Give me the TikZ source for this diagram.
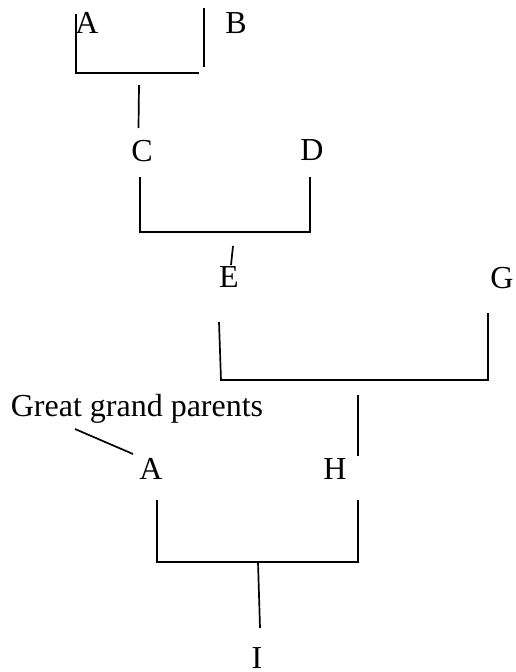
\documentclass[tikz,border=0pt]{standalone}
\usepackage{fontspec}
\setmainfont{Liberation Serif}
\begin{document}
\begin{tikzpicture}[x=1pt,y=-1pt,
  lbl/.style={anchor=base,inner sep=0pt,font=\fontsize{32}{36}\selectfont},
  ln/.style={line width=1.7pt,black}]
\useasboundingbox (0,0) rectangle (515,672);
% labels
\node[lbl] (a1) at (87,33) {A};
\node[lbl] (b) at (236,33) {B};
\node[lbl] (c) at (142,161) {C};
\node[lbl] (d) at (312,160) {D};
\node[lbl] (e) at (229,287) {E};
\node[lbl] (g) at (502,288) {G};
\node[lbl] (ggp) at (137,416) {Great grand parents};
\node[lbl] (a2) at (151,479) {A};
\node[lbl] (h) at (335,479) {H};
\node[lbl] (i) at (257,668) {I};
% coordinates
\coordinate (ab1) at (75.7,14);
\coordinate (ab2) at (75.7,73);
\coordinate (ab3) at (199,73);
\coordinate (ab4) at (204,8);
\coordinate (ab5) at (204,67);
\coordinate (c1) at (139,85);
\coordinate (c2) at (138.5,128);
\coordinate (cd1) at (140,177);
\coordinate (cd2) at (140,232);
\coordinate (cd3) at (310,232);
\coordinate (cd4) at (310,177);
\coordinate (e1) at (233,246);
\coordinate (e2) at (231,265);
\coordinate (eg1) at (219,322);
\coordinate (eg2) at (221,380);
\coordinate (eg3) at (488,380);
\coordinate (eg4) at (488,313);
\coordinate (h1) at (358,395);
\coordinate (h2) at (358,456);
\coordinate (p1) at (75,429);
\coordinate (p2) at (133,454);
\coordinate (ah1) at (157,500);
\coordinate (ah2) at (157,562);
\coordinate (ah3) at (358,562);
\coordinate (ah4) at (358,500);
\coordinate (i1) at (258,562);
\coordinate (i2) at (260,628);
% connectors
\draw[ln] (ab1) -- (ab2) -- (ab3);
\draw[ln] (ab4) -- (ab5);
\draw[ln] (c1) -- (c2);
\draw[ln] (cd1) -- (cd2) -- (cd3) -- (cd4);
\draw[ln] (e1) -- (e2);
\draw[ln] (eg1) -- (eg2) -- (eg3) -- (eg4);
\draw[ln] (h1) -- (h2);
\draw[ln] (p1) -- (p2);
\draw[ln] (ah1) -- (ah2) -- (ah3) -- (ah4);
\draw[ln] (i1) -- (i2);
\end{tikzpicture}
\end{document}
